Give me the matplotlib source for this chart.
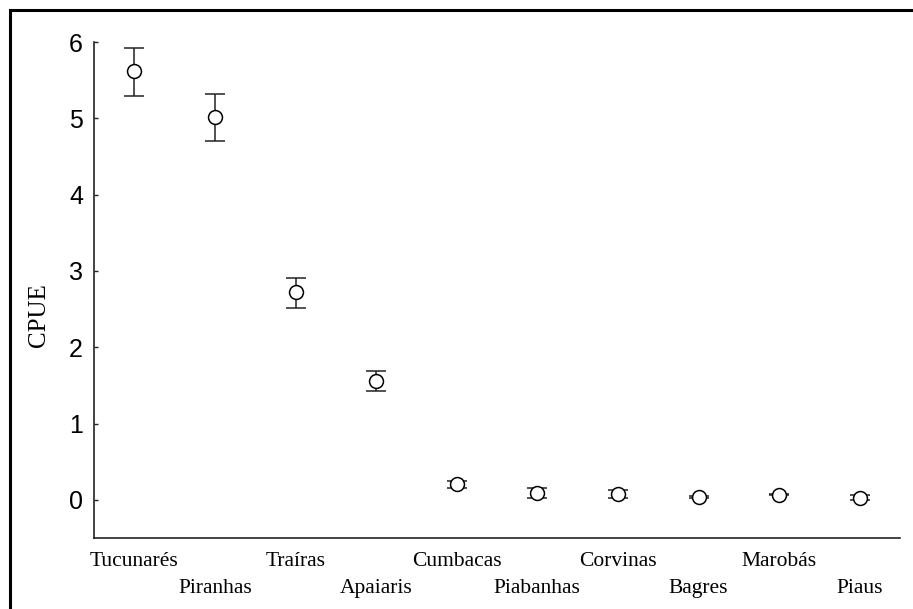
import matplotlib
matplotlib.use("Agg")
import matplotlib.pyplot as plt
from matplotlib.patches import Rectangle

categories = ["Tucunarés", "Piranhas", "Traíras", "Apaiaris", "Cumbacas",
              "Piabanhas", "Corvinas", "Bagres", "Marobás", "Piaus"]
means = [5.62, 5.02, 2.72, 1.56, 0.21, 0.09, 0.08, 0.04, 0.07, 0.03]
upper = [5.92, 5.32, 2.91, 1.69, 0.25, 0.15, 0.13, 0.05, 0.08, 0.06]
lower = [5.29, 4.70, 2.51, 1.42, 0.16, 0.03, 0.03, 0.03, 0.06, 0.00]
yticks = [0, 1, 2, 3, 4, 5, 6]

W, H = 913, 609
fig = plt.figure(figsize=(W / 100, H / 100), dpi=100)
ax = fig.add_axes([94 / W, 1 - 538 / H, (900 - 94) / W, (538 - 42) / H])

x = list(range(len(categories)))
yerr = [[m - l for m, l in zip(means, lower)], [u - m for u, m in zip(upper, means)]]
ax.errorbar(x, means, yerr=yerr, fmt='o', color='#222222', ecolor='#222222',
            elinewidth=1.1, capsize=7.5, capthick=1.1, markersize=10,
            markerfacecolor='white', markeredgecolor='black', markeredgewidth=1.1)

ax.set_xlim(-0.5, 9.5)
ax.set_ylim(-0.5, 6.0)
ax.set_yticks(yticks)
ax.set_yticklabels([str(t) for t in yticks], family='Liberation Sans', fontsize=18)
ax.set_xticks(x)
ax.set_xticklabels([c if i % 2 == 0 else "\n" + c for i, c in enumerate(categories)],
                   family='Liberation Serif', fontsize=15.5, linespacing=1.6)
ax.tick_params(axis='y', direction='in', length=3, width=1.0, pad=8, colors='#222222')
ax.tick_params(axis='x', length=0, pad=10)
for lbl in ax.get_xticklabels() + ax.get_yticklabels():
    lbl.set_color('black')

ax.spines['top'].set_visible(False)
ax.spines['right'].set_visible(False)
for s in ['left', 'bottom']:
    ax.spines[s].set_color('#222222')
    ax.spines[s].set_linewidth(1.2)

ax.set_ylabel("CPUE", family='Liberation Serif', fontsize=18)
ax.yaxis.set_label_coords(-0.0546, 0.45)

frame = Rectangle((10 / W, -0.05), 1.1, 1 - 10 / H + 0.05, transform=fig.transFigure,
                  fill=False, edgecolor='black', linewidth=2.2, clip_on=False)
fig.patches.append(frame)

fig.savefig("out.png", dpi=100)
